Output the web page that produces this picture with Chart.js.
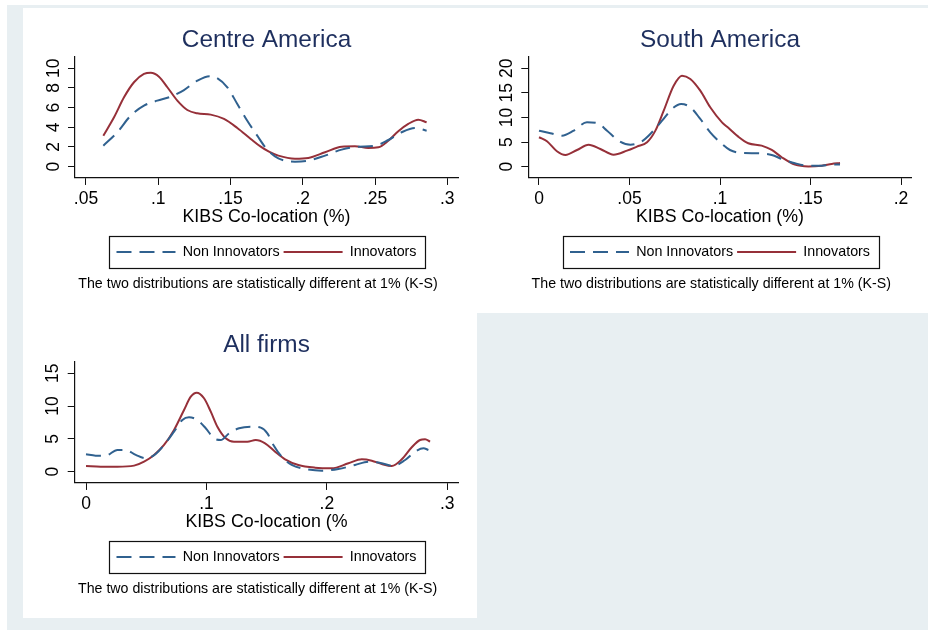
<!DOCTYPE html>
<html>
<head>
<meta charset="utf-8">
<script src="https://cdn.jsdelivr.net/npm/chart.js@4.4.1/dist/chart.umd.min.js"></script>
<style>
  html, body { margin: 0; padding: 0; width: 928px; height: 630px; overflow: hidden; background: #ffffff; }
  #frame { position: absolute; left: 7px; top: 5px; width: 921px; height: 625px; background: #e8eff2; }
  .panel { position: absolute; background: #ffffff; }
  canvas { position: absolute; }
</style>
</head>
<body>
<div id="frame"></div>
<div class="panel" style="left:23px; top:8px; width:454px; height:610px;"></div>
<div class="panel" style="left:477px; top:8px; width:451px; height:305px;"></div>
<canvas id="centre" width="454" height="305" style="left:23px; top:8px;"></canvas>
<canvas id="south" width="451" height="305" style="left:477px; top:8px;"></canvas>
<canvas id="all" width="454" height="305" style="left:23px; top:313px;"></canvas>
<script>
// ---- Kernel density estimates of KIBS co-location, by innovation status ----

// Centre America
const caInnX = [0.062, 0.0694, 0.0763, 0.0832, 0.0901, 0.0948, 0.1005, 0.1063, 0.1132, 0.1201, 0.127, 0.1363, 0.1455, 0.1547, 0.164, 0.1709, 0.1766, 0.1831, 0.1946, 0.2038, 0.2154, 0.2269, 0.2361, 0.2453, 0.2523, 0.2592, 0.2661, 0.273, 0.2799, 0.2857];
const caInn  = [3.15, 5.02, 7.05, 8.58, 9.42, 9.55, 9.15, 8.07, 6.71, 5.76, 5.42, 5.29, 4.85, 3.93, 2.82, 2.03, 1.52, 1.12, 0.81, 0.88, 1.46, 2.03, 2.07, 1.90, 1.97, 2.64, 3.60, 4.34, 4.78, 4.51];
const caNonX = [0.062, 0.0717, 0.0809, 0.0901, 0.0993, 0.1086, 0.1178, 0.127, 0.1355, 0.1397, 0.1478, 0.1547, 0.1616, 0.1685, 0.175, 0.1831, 0.1946, 0.2038, 0.2154, 0.2269, 0.2384, 0.25, 0.2592, 0.2684, 0.2777, 0.2857];
const caNon  = [2.13, 3.50, 5.18, 6.20, 6.71, 7.11, 7.79, 8.74, 9.20, 9.09, 8.07, 6.37, 4.67, 3.15, 1.80, 0.85, 0.51, 0.61, 1.12, 1.73, 2.03, 2.13, 2.71, 3.50, 3.93, 3.66];
const caXTicks = ['.05', '.1', '.15', '.2', '.25', '.3'];
const caYTicks = ['0', '2', '4', '6', '8', '10'];

// South America
const saInnX = [0.0, 0.0044, 0.0099, 0.0146, 0.021, 0.0274, 0.0339, 0.0412, 0.0486, 0.0541, 0.0597, 0.0643, 0.0689, 0.0744, 0.079, 0.0836, 0.0891, 0.0946, 0.1011, 0.1046, 0.1101, 0.1156, 0.123, 0.1286, 0.1341, 0.1414, 0.1488, 0.1562, 0.1617, 0.1663];
const saInn  = [5.98, 5.16, 3.13, 2.38, 3.39, 4.47, 3.60, 2.44, 3.25, 4.07, 4.96, 7.32, 11.38, 16.46, 18.50, 17.83, 15.45, 12.07, 9.0, 7.9, 6.10, 4.76, 4.27, 3.39, 1.91, 0.41, 0.05, 0.20, 0.55, 0.75];
const saNonX = [0.0, 0.0063, 0.0127, 0.0192, 0.0265, 0.032, 0.0376, 0.044, 0.0505, 0.0569, 0.0624, 0.068, 0.0735, 0.0785, 0.0836, 0.0891, 0.0946, 0.1011, 0.1055, 0.112, 0.1212, 0.1286, 0.1341, 0.1414, 0.1488, 0.1562, 0.1617, 0.1663];
const saNon  = [7.32, 6.79, 6.30, 7.32, 9.02, 8.88, 7.32, 5.28, 4.47, 5.16, 6.99, 9.35, 11.73, 12.74, 12.07, 9.70, 6.99, 4.61, 3.39, 2.78, 2.72, 2.38, 1.56, 0.69, 0.20, 0.20, 0.41, 0.45];
const saXTicks = ['0', '.05', '.1', '.15', '.2'];
const saYTicks = ['0', '5', '10', '15', '20'];

// All firms
const afInnX = [0.0, 0.0122, 0.026, 0.0399, 0.0482, 0.0565, 0.0648, 0.0731, 0.0814, 0.087, 0.0919, 0.098, 0.1036, 0.1091, 0.116, 0.1229, 0.134, 0.1409, 0.1487, 0.157, 0.1653, 0.1763, 0.1902, 0.2041, 0.2179, 0.229, 0.2373, 0.2456, 0.2539, 0.2622, 0.2705, 0.2774, 0.2816, 0.2857];
const afInn  = [0.87, 0.76, 0.76, 0.92, 1.52, 2.55, 4.07, 6.36, 9.41, 11.43, 12.04, 11.19, 9.15, 6.86, 5.09, 4.57, 4.57, 4.83, 4.33, 3.05, 1.89, 1.02, 0.61, 0.52, 1.28, 1.89, 1.68, 1.17, 0.87, 1.89, 3.72, 4.83, 4.94, 4.57];
const afNonX = [0.0, 0.008, 0.0164, 0.026, 0.033, 0.0413, 0.0496, 0.0579, 0.0648, 0.0731, 0.08, 0.0855, 0.0924, 0.0994, 0.1063, 0.1119, 0.1188, 0.1271, 0.1368, 0.1451, 0.1506, 0.1556, 0.1625, 0.1708, 0.1819, 0.1958, 0.2096, 0.2234, 0.2345, 0.2456, 0.2552, 0.265, 0.2733, 0.2802, 0.2843];
const afNon  = [2.65, 2.44, 2.44, 3.31, 3.31, 2.55, 2.04, 2.70, 4.07, 6.10, 7.88, 8.29, 7.88, 6.62, 5.09, 4.83, 5.85, 6.62, 6.86, 6.71, 5.85, 4.07, 2.29, 1.02, 0.41, 0.15, 0.41, 1.02, 1.52, 1.28, 0.87, 1.78, 3.05, 3.57, 3.31];
const afXTicks = ['0', '.1', '.2', '.3'];
const afYTicks = ['0', '5', '10', '15'];

const seriesNames = ['Non Innovators', 'Innovators'];
const NOTE = 'The two distributions are statistically different at 1% (K-S)';

// ---- styling ----
const FONT = "'Liberation Sans', Arial, Helvetica, sans-serif";
const BLUE = '#30618f';
const RED = '#963039';
const NAVY = '#1e2f5e';
const AXIS = '#111111';

function points(xs, ys) {
  return xs.map((x, i) => ({ x: x, y: ys[i] }));
}

// Box around the legend entries
const legendFrame = {
  id: 'legendFrame',
  afterDraw(chart) {
    const hb = chart.legend && chart.legend.legendHitBoxes;
    if (!hb || !hb.length) return;
    const last = hb[hb.length - 1];
    const l = hb[0].left - 7.4;
    const r = last.left + last.width + 9;
    const cy = hb[0].top + hb[0].height / 2;
    const ctx = chart.ctx;
    ctx.save();
    ctx.strokeStyle = AXIS;
    ctx.lineWidth = 1.2;
    ctx.setLineDash([]);
    ctx.strokeRect(Math.round(l) + 0.5, Math.round(cy - 15.8) + 0.5, Math.round(r - l), Math.round(31.6));
    ctx.restore();
  }
};

// Nudge the note slightly right of the plot's left edge
const noteIndent = {
  id: 'noteIndent',
  afterLayout(chart) {
    for (const b of chart.boxes) {
      if (b.options && b.options.text === NOTE) { b.left += 3.3; b.right += 3.3; }
    }
  }
};

function densityPanel(id, p) {
  const xVals = p.xTicks.map(parseFloat);
  const yVals = p.yTicks.map(parseFloat);
  return new Chart(document.getElementById(id), {
    type: 'scatter',
    data: {
      datasets: [
        { label: seriesNames[0], data: points(p.nonX, p.non), showLine: true, borderColor: BLUE,
          borderWidth: 2, borderDash: [15, 8], pointRadius: 0, fill: false, cubicInterpolationMode: 'monotone' },
        { label: seriesNames[1], data: points(p.innX, p.inn), showLine: true, borderColor: RED,
          borderWidth: 2, pointRadius: 0, fill: false, cubicInterpolationMode: 'monotone' }
      ]
    },
    options: {
      responsive: false,
      animation: false,
      events: [],
      layout: { padding: { left: 0, right: p.padRight, top: 0, bottom: 20.2 } },
      scales: {
        x: {
          type: 'linear', min: p.xMin, max: p.xMax,
          afterBuildTicks: s => { s.ticks = xVals.map(v => ({ value: v })); },
          afterFit: s => { s.height = 63; },
          ticks: { autoSkip: false, padding: 3.5, color: '#000', maxRotation: 0,
                   font: { family: FONT, size: 17.5, lineHeight: 1.2 },
                   callback: (v, i) => p.xTicks[i] },
          grid: { display: true, drawOnChartArea: false, drawTicks: true, tickLength: 7, color: AXIS, lineWidth: 1 },
          border: { display: true, color: AXIS, width: 1.2 },
          title: { display: true, text: p.xTitle, color: '#000',
                   font: { family: FONT, size: 17.8, lineHeight: 1.2 }, padding: { top: 0, bottom: 13.6 } }
        },
        y: {
          type: 'linear', min: p.yMin, max: p.yMax,
          afterBuildTicks: s => { s.ticks = yVals.map(v => ({ value: v })); },
          afterFit: s => { s.width = p.axisLeft; },
          ticks: { autoSkip: false, padding: 4.3, color: '#000', minRotation: 90, maxRotation: 90,
                   crossAlign: 'center', font: { family: FONT, size: 17.5, lineHeight: 1.2 },
                   callback: (v, i) => p.yTicks[i] },
          grid: { display: true, drawOnChartArea: false, drawTicks: true, tickLength: 7, color: AXIS, lineWidth: 1 },
          border: { display: true, color: AXIS, width: 1.2 }
        }
      },
      plugins: {
        tooltip: { enabled: false },
        title: { display: true, text: p.title, position: 'top', fullSize: false, color: NAVY,
                 font: { family: FONT, size: 24.4, weight: 'normal', lineHeight: 1.2 },
                 padding: { top: 17.4, bottom: 2.3 } },
        legend: {
          display: true, position: 'bottom', fullSize: false, align: 'center',
          labels: {
            usePointStyle: true, pointStyleWidth: 59, boxHeight: 14.3, padding: 4, color: '#000',
            font: { family: FONT, size: 14.3, lineHeight: 1.2 },
            generateLabels: chart => chart.data.datasets.map((ds, i) => ({
              text: ds.label, fillStyle: 'rgba(0,0,0,0)', strokeStyle: ds.borderColor,
              lineWidth: ds.borderWidth, lineDash: ds.borderDash || [], lineCap: 'butt',
              pointStyle: 'line', hidden: false, datasetIndex: i, fontColor: '#000'
            }))
          }
        },
        subtitle: { display: true, text: NOTE, position: 'bottom', align: 'start', fullSize: false, color: '#000',
                    font: { family: FONT, size: 14.2, weight: 'normal', lineHeight: 1.2 },
                    padding: { top: 6.5, bottom: 0 } }
      }
    },
    plugins: [legendFrame, noteIndent]
  });
}

densityPanel('centre', {
  title: 'Centre America', xTitle: 'KIBS Co-location (%)',
  innX: caInnX, inn: caInn, nonX: caNonX, non: caNon,
  xTicks: caXTicks, yTicks: caYTicks,
  xMin: 0.04239, xMax: 0.3074, yMin: -1.148, yMax: 11.148,
  axisLeft: 52, padRight: 19
});

densityPanel('south', {
  title: 'South America', xTitle: 'KIBS Co-location (%)',
  innX: saInnX, inn: saInn, nonX: saNonX, non: saNon,
  xTicks: saXTicks, yTicks: saYTicks,
  xMin: -0.00591, xMax: 0.20591, yMin: -2.297, yMax: 22.297,
  axisLeft: 51.3, padRight: 16.3
});

densityPanel('all', {
  title: 'All firms', xTitle: 'KIBS Co-location (%',
  innX: afInnX, inn: afInn, nonX: afNonX, non: afNon,
  xTicks: afXTicks, yTicks: afYTicks,
  xMin: -0.00939, xMax: 0.30914, yMin: -1.72, yMax: 16.72,
  axisLeft: 51.7, padRight: 18.7
});
</script>
</body>
</html>
